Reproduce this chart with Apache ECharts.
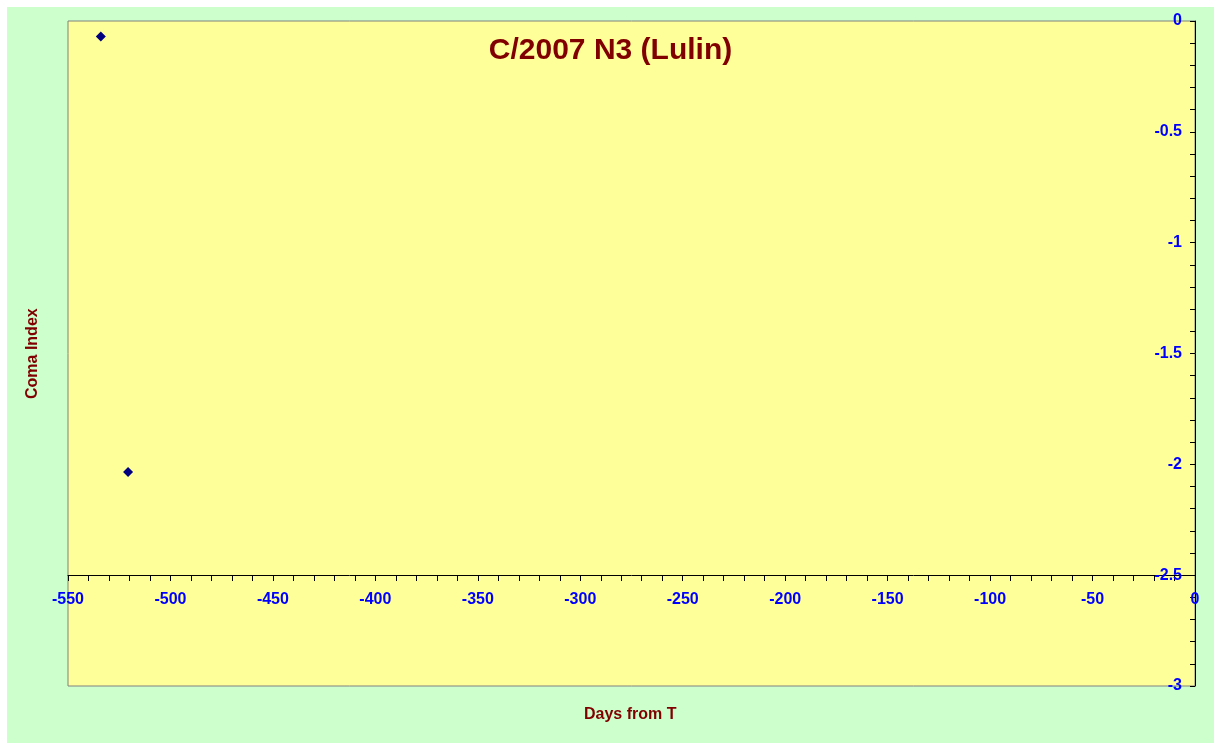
<!DOCTYPE html>
<html>
<head>
<meta charset="utf-8">
<script src="https://cdn.jsdelivr.net/npm/echarts@6/dist/echarts.min.js"></script>
<style>
html,body{margin:0;padding:0;background:#ffffff;}
#bg{position:absolute;left:7px;top:7px;width:1207px;height:736px;background:#CCFFCC;}
#c{position:absolute;left:0;top:0;width:1221px;height:750px;}
</style>
</head>
<body>
<div id="bg"></div>
<div id="c"></div>
<script>
const titleText = 'C/2007 N3 (Lulin)';
const xName = 'Days from T';
const yName = 'Coma Index';
const days = [-534, -520.7];
const comaIndex = [-0.07, -2.035];
const xMin = -550, xMax = 0, xStep = 50;
const yMin = -3, yMax = 0, yStep = 0.5;

const chart = echarts.init(document.getElementById('c'), null, {renderer: 'canvas'});
const labelFont = {color: '#0000FF', fontWeight: 'bold', fontSize: 16, fontFamily: 'Liberation Sans, Arial, sans-serif'};
chart.setOption({
  backgroundColor: 'transparent',
  animation: false,
  title: {
    text: titleText, left: 'center', top: 31,
    textStyle: {color: '#800000', fontWeight: 'bold', fontSize: 30, fontFamily: 'Liberation Sans, Arial, sans-serif'}
  },
  grid: {
    left: 68, right: 26, top: 21, bottom: 64,
    show: true, backgroundColor: '#FFFF99', borderColor: '#808080', borderWidth: 1
  },
  xAxis: {
    type: 'value', min: xMin, max: xMax, interval: xStep,
    position: 'bottom', offset: -111,
    axisLine: {show: true, onZero: false, lineStyle: {color: '#000000', width: 1}},
    axisTick: {show: true, length: 6, lineStyle: {color: '#000000'}},
    minorTick: {show: true, splitNumber: 5, length: 6, lineStyle: {color: '#000000'}},
    splitLine: {show: false},
    axisLabel: Object.assign({margin: 17}, labelFont)
  },
  yAxis: {
    type: 'value', min: yMin, max: yMax, interval: yStep,
    position: 'right',
    axisLine: {show: true, onZero: false, lineStyle: {color: '#000000', width: 1}},
    axisTick: {show: true, inside: true, length: 5, lineStyle: {color: '#000000'}},
    minorTick: {show: true, splitNumber: 5, length: 5, lineStyle: {color: '#000000'}},
    splitLine: {show: false},
    axisLabel: Object.assign({inside: true, margin: 13}, labelFont)
  },
  graphic: [
    {type: 'text', left: 584, top: 707, style: {text: xName, fill: '#800000', font: 'bold 16px "Liberation Sans", Arial, sans-serif'}},
    {type: 'text', x: 25, y: 399, rotation: Math.PI / 2, style: {text: yName, fill: '#800000', font: 'bold 16px "Liberation Sans", Arial, sans-serif'}}
  ],
  series: [{
    type: 'scatter',
    data: days.map((d, i) => [d, comaIndex[i]]),
    symbol: 'diamond', symbolSize: 10,
    itemStyle: {color: '#000080', opacity: 1}
  }]
});
</script>
</body>
</html>
